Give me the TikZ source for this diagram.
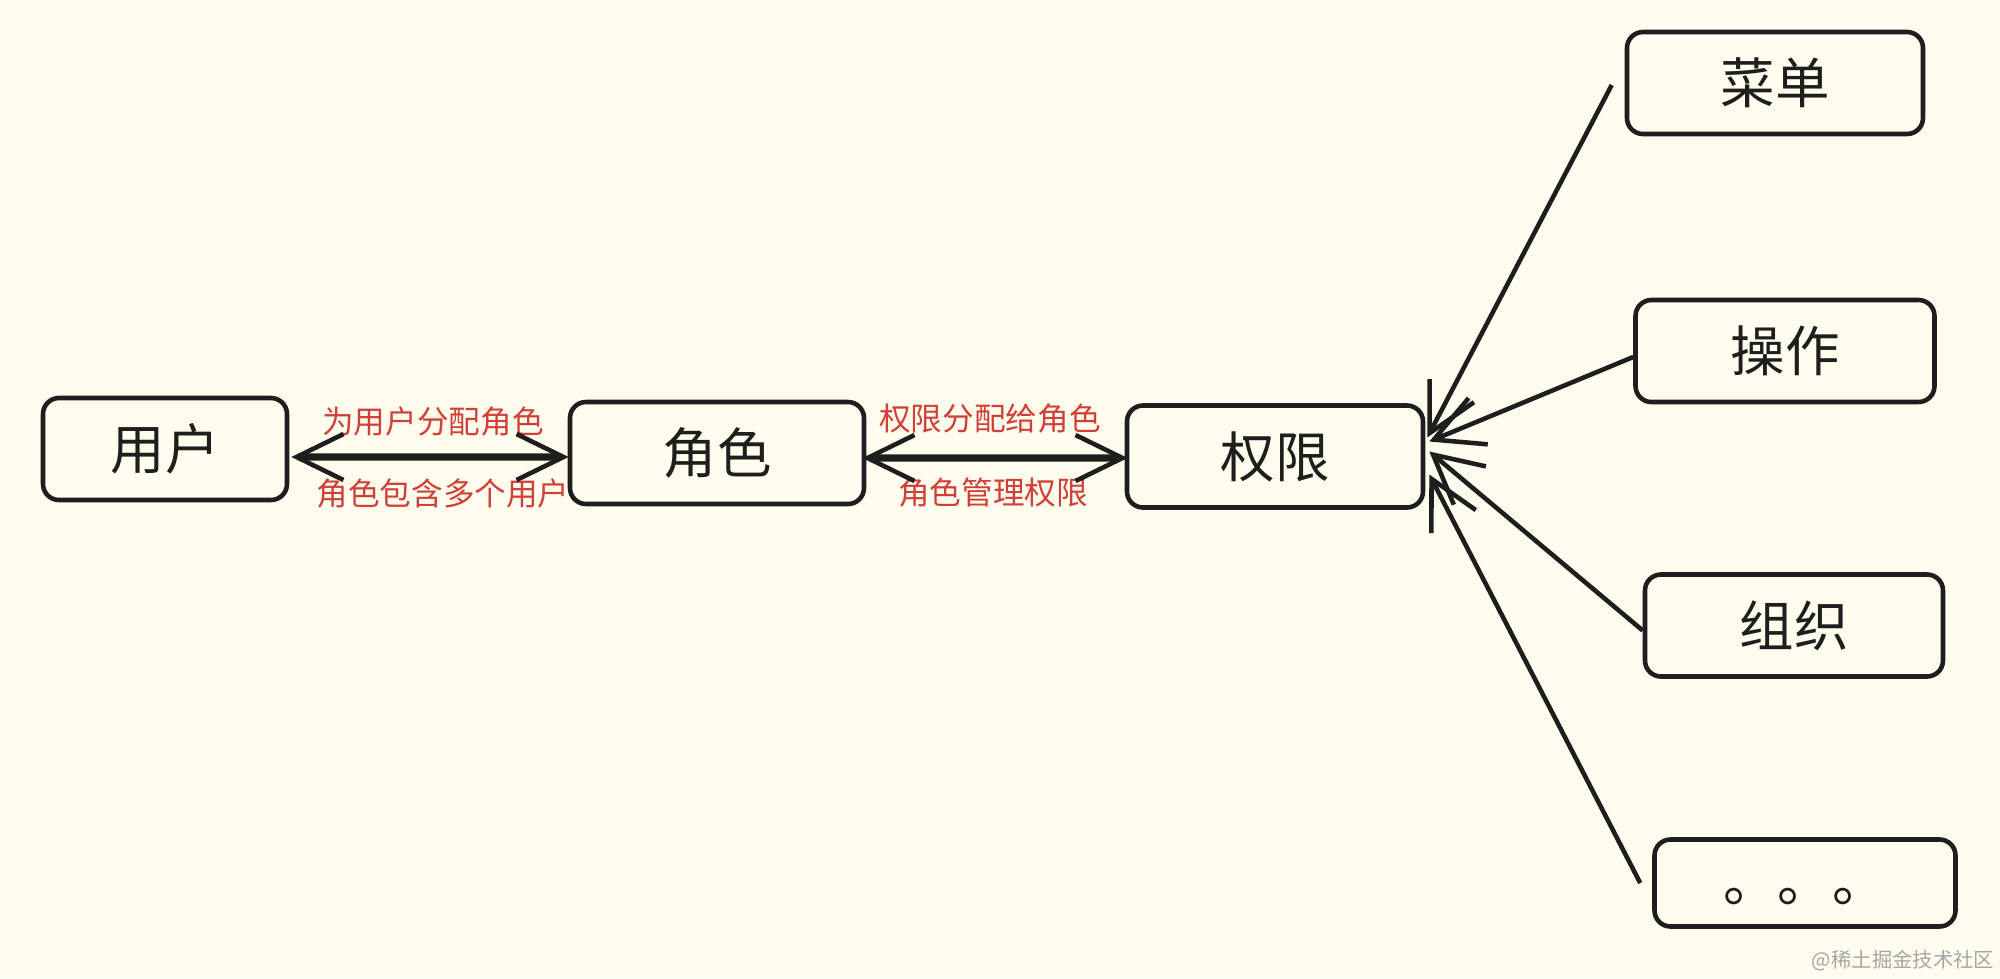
\documentclass[tikz,border=0pt]{standalone}
\usepackage{fontspec}
\setmainfont{Noto Sans CJK SC}
\usetikzlibrary{arrows.meta}
\definecolor{paper}{RGB}{254,252,237}
\definecolor{ink}{RGB}{30,30,30}
\definecolor{note}{RGB}{208,64,56}
\begin{document}
\begin{tikzpicture}[
        box/.style={draw=ink, line width=1.3pt, rounded corners=0.16cm, minimum width=2.96cm, minimum height=1.02cm, inner sep=0pt, text=ink, font=\fontsize{15.5}{18}\selectfont},
        lbl/.style={text=note, inner sep=0pt, font=\fontsize{9}{11}\selectfont},
        link/.style={draw=ink, line width=2pt, {Straight Barb[length=0.47cm,width=0.46cm,line width=1.3pt]}-{Straight Barb[length=0.47cm,width=0.46cm,line width=1.3pt]}},
        feed/.style={draw=ink, line width=1.3pt, -{Straight Barb[length=0.48cm,width=0.5cm]}}]
        \useasboundingbox[fill=paper] (0,0) rectangle (20,-9.78);

        \node[box, minimum width=2.44cm] (yh) at (1.65,-4.49) {用户};
        \node[box, minimum width=2.94cm] (js) at (7.17,-4.53) {角色};
        \node[box] (qx) at (12.75,-4.565) {权限};

        \node[box] (cd) at (17.75,-0.83) {菜单};
        \node[box, minimum width=2.99cm] (cz) at (17.85,-3.51) {操作};
        \node[box, minimum width=2.98cm] (zz) at (17.94,-6.255) {组织};
        \node[box, minimum width=3.01cm, minimum height=0.87cm] (dd) at (18.05,-8.83) {\vphantom{用}。。。};

        \node[lbl] (l1) at (4.33,-4.22) {为用户分配角色};
        \node[lbl] (l2) at (4.43,-4.94) {角色包含多个用户};
        \node[lbl] (l3) at (9.90,-4.19) {权限分配给角色};
        \node[lbl] (l4) at (9.93,-4.93) {角色管理权限};

        \draw[link] ([xshift=0.02cm,yshift=-0.08cm]yh.east) -- ([xshift=0.01cm,yshift=-0.04cm]js.west);
        \draw[link] ([xshift=-0.04cm,yshift=-0.05cm]js.east) -- ([xshift=0.03cm,yshift=-0.015cm]qx.west);

        \draw[feed] ([xshift=-0.13cm,yshift=-0.02cm]cd.west) -- ([xshift=0.02cm,yshift=0.19cm]qx.east);
        \draw[feed] ([yshift=-0.06cm]cz.west) -- ([xshift=0.04cm,yshift=0.15cm]qx.east);
        \draw[feed] ([yshift=-0.05cm]zz.west) -- ([xshift=0.04cm,yshift=0.05cm]qx.east);
        \draw[feed] ([xshift=-0.12cm]dd.west) -- ([xshift=0.04cm,yshift=-0.18cm]qx.east);

        \node[text=gray!70, inner sep=0pt, anchor=east, font=\fontsize{5.8}{7}\selectfont] (wm) at (19.95,-9.61) {@稀土掘金技术社区};
\end{tikzpicture}
\end{document}
